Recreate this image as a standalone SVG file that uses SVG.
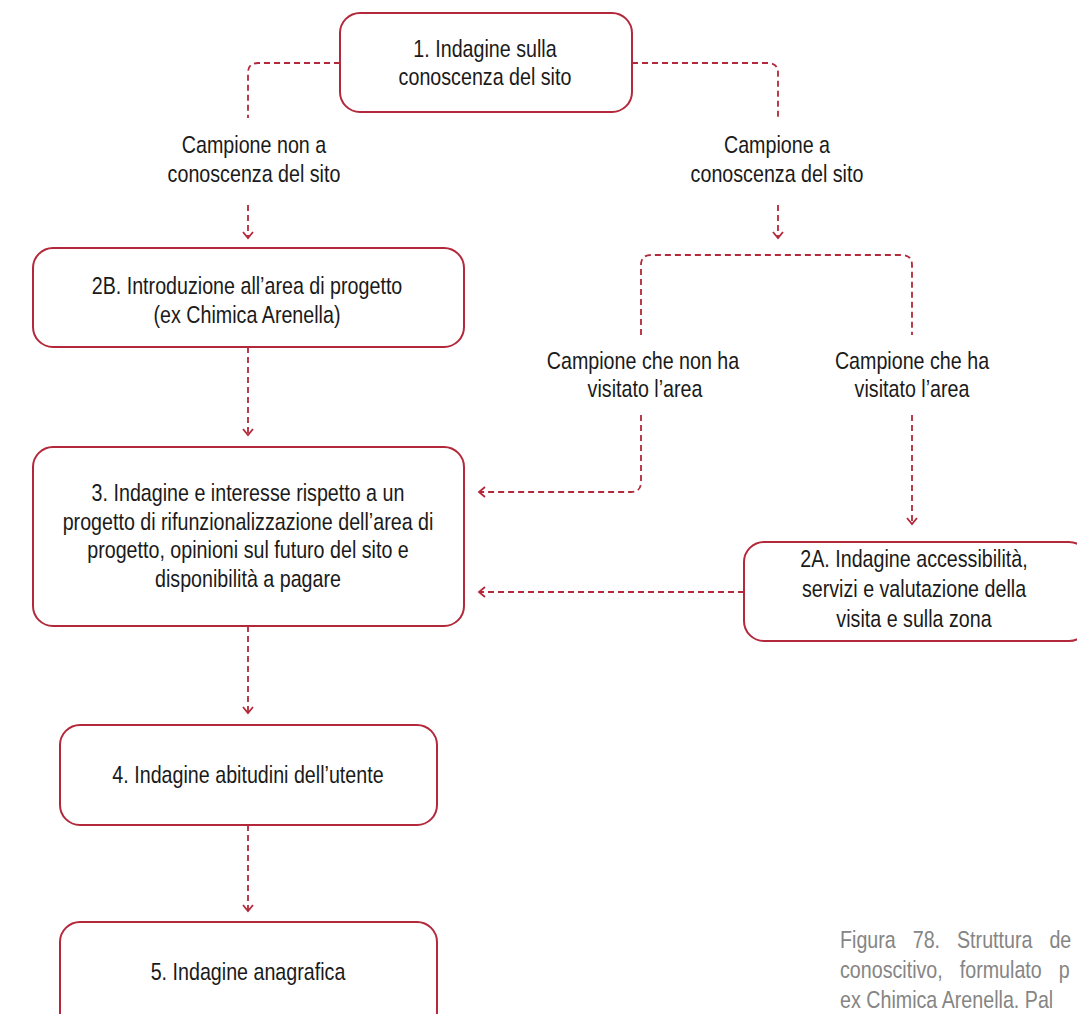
<svg xmlns="http://www.w3.org/2000/svg" width="1077" height="1014" viewBox="0 0 1077 1014">
<defs>
<style>
.node{fill:#fff;stroke:#b3283a;stroke-width:2}
.t{font-family:"Liberation Sans",Arial,sans-serif;font-size:24px;fill:#1a1a1a;text-anchor:middle}
.c{fill:none;stroke:#b3283a;stroke-width:1.8;stroke-dasharray:6,4}
.cap{font-family:"Liberation Sans",Arial,sans-serif;font-size:24px;fill:#858585}
</style>
<marker id="ah" viewBox="0 0 12 12" refX="10" refY="6" markerWidth="12" markerHeight="12" markerUnits="userSpaceOnUse" orient="auto">
<path d="M4,1 L10,6 L4,11" fill="none" stroke="#b3283a" stroke-width="1.8"/>
</marker>
</defs>
<rect width="1077" height="1014" fill="#fff"/>
<g id="connectors">
<path class="c" d="M340,63 H258 Q248,63 248,73 V118"/>
<path class="c" d="M248,205 V238" marker-end="url(#ah)"/>
<path class="c" d="M632,63 H768 Q778,63 778,73 V118"/>
<path class="c" d="M778,205 V238" marker-end="url(#ah)"/>
<path class="c" d="M641,335 V265 Q641,255 651,255 H902 Q912,255 912,265 V335"/>
<path class="c" d="M641,415 V482 Q641,492 631,492 H479" marker-end="url(#ah)"/>
<path class="c" d="M912,415 V524" marker-end="url(#ah)"/>
<path class="c" d="M744,592 H479" marker-end="url(#ah)"/>
<path class="c" d="M248,347 V435" marker-end="url(#ah)"/>
<path class="c" d="M248,626 V713" marker-end="url(#ah)"/>
<path class="c" d="M248,825 V911" marker-end="url(#ah)"/>
</g>
<g id="labels">
<text class="t" transform="matrix(0.82,0,0,1,254,153)">Campione non a</text>
<text class="t" transform="matrix(0.82,0,0,1,254,182)">conoscenza del sito</text>
<text class="t" transform="matrix(0.82,0,0,1,777,153)">Campione a</text>
<text class="t" transform="matrix(0.82,0,0,1,777,182)">conoscenza del sito</text>
<text class="t" transform="matrix(0.82,0,0,1,643,369)">Campione che non ha</text>
<text class="t" transform="matrix(0.82,0,0,1,645,397)">visitato l’area</text>
<text class="t" transform="matrix(0.82,0,0,1,912,369)">Campione che ha</text>
<text class="t" transform="matrix(0.82,0,0,1,912,397)">visitato l’area</text>
</g>
<g id="node1">
<rect class="node" x="340" y="13" width="292" height="99" rx="20"/>
<text class="t" transform="matrix(0.82,0,0,1,485,57)">1. Indagine sulla</text>
<text class="t" transform="matrix(0.82,0,0,1,485,85)">conoscenza del sito</text>
</g>
<g id="node2B">
<rect class="node" x="33" y="248" width="431" height="99" rx="20"/>
<text class="t" transform="matrix(0.82,0,0,1,247,294)">2B. Introduzione all’area di progetto</text>
<text class="t" transform="matrix(0.82,0,0,1,247,323)">(ex Chimica Arenella)</text>
</g>
<g id="node3">
<rect class="node" x="33" y="447" width="431" height="179" rx="20"/>
<text class="t" transform="matrix(0.82,0,0,1,248,501)">3. Indagine e interesse rispetto a un</text>
<text class="t" transform="matrix(0.82,0,0,1,248,530)">progetto di rifunzionalizzazione dell’area di</text>
<text class="t" transform="matrix(0.82,0,0,1,248,558)">progetto, opinioni sul futuro del sito e</text>
<text class="t" transform="matrix(0.82,0,0,1,248,587)">disponibilità a pagare</text>
</g>
<g id="node2A">
<rect class="node" x="744" y="542" width="345" height="99" rx="20"/>
<text class="t" transform="matrix(0.82,0,0,1,914,567)">2A. Indagine accessibilità,</text>
<text class="t" transform="matrix(0.82,0,0,1,914,597)">servizi e valutazione della</text>
<text class="t" transform="matrix(0.82,0,0,1,914,627)">visita e sulla zona</text>
</g>
<g id="node4">
<rect class="node" x="60" y="725" width="377" height="100" rx="20"/>
<text class="t" transform="matrix(0.82,0,0,1,248,783)">4. Indagine abitudini dell’utente</text>
</g>
<g id="node5">
<rect class="node" x="60" y="922" width="377" height="110" rx="20"/>
<text class="t" transform="matrix(0.82,0,0,1,248,980)">5. Indagine anagrafica</text>
</g>
<g id="caption">
<text class="cap" transform="matrix(0.82,0,0,1,840,948)" word-spacing="14">Figura 78. Struttura de</text>
<text class="cap" transform="matrix(0.82,0,0,1,840,978)" word-spacing="14">conoscitivo, formulato p</text>
<text class="cap" transform="matrix(0.82,0,0,1,840,1008)">ex Chimica Arenella. Pal</text>
</g>
</svg>
